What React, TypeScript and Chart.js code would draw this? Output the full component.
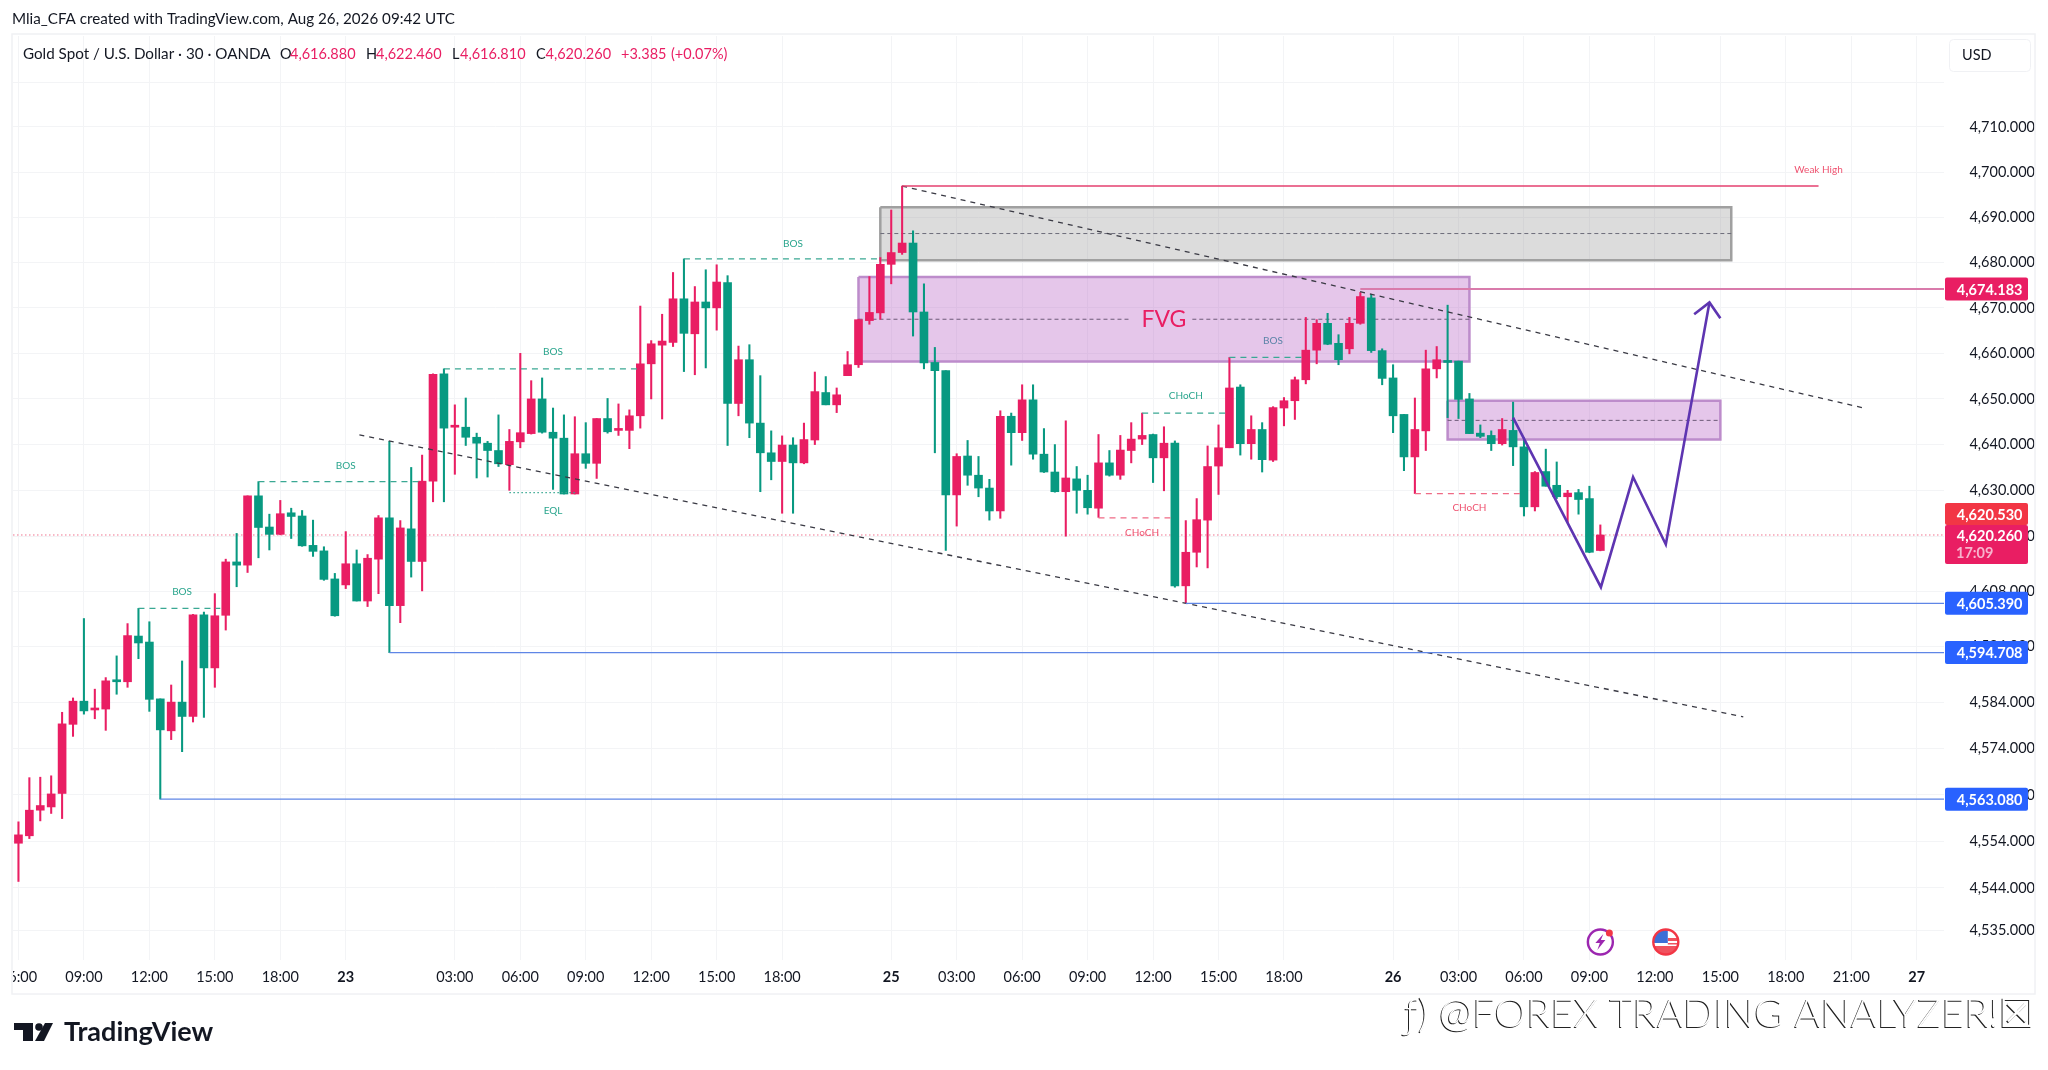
import Chart from "chart.js/auto";
import { useEffect, useRef } from "react";

// 30 minute bars, prices
const opens = [
  4553.6, 4555.2, 4560.7, 4561.4, 4564.3, 4579.2, 4584.2, 4582.3, 4582.5, 4588.5,
  4588.4, 4598.3, 4597.0, 4584.7, 4577.8, 4584.0, 4580.9, 4602.9, 4591.4, 4602.8,
  4614.4, 4613.7, 4628.8, 4622.0, 4620.4, 4625.1, 4624.4, 4618.0, 4616.8, 4610.7,
  4609.4, 4614.0, 4605.9, 4615.0, 4624.0, 4604.9, 4621.6, 4614.5, 4632.0, 4655.5,
  4643.8, 4643.8, 4641.6, 4640.3, 4638.7, 4635.6, 4640.6, 4642.4, 4650.0, 4642.7,
  4641.4, 4629.2, 4638.0, 4635.9, 4645.7, 4643.1, 4643.1, 4646.3, 4657.7, 4661.8,
  4662.4, 4672.0, 4664.3, 4671.3, 4670.0, 4675.6, 4649.0, 4658.6, 4644.7, 4638.2,
  4636.3, 4639.9, 4636.0, 4641.0, 4651.4, 4648.7, 4655.1, 4657.5, 4667.2, 4668.9,
  4679.6, 4682.2, 4684.3, 4669.1, 4658.0, 4656.2, 4629.0, 4637.5, 4633.3, 4630.5,
  4625.5, 4646.2, 4642.6, 4649.8, 4637.9, 4634.0, 4629.7, 4632.5, 4630.0, 4626.1,
  4636.0, 4633.3, 4638.7, 4641.2, 4642.2, 4637.1, 4640.3, 4609.2, 4616.5, 4623.5,
  4635.3, 4639.3, 4652.6, 4640.2, 4643.3, 4636.6, 4648.0, 4649.6, 4654.2, 4660.7,
  4666.6, 4662.2, 4661.0, 4666.6, 4672.2, 4660.6, 4654.6, 4646.6, 4637.3, 4643.0,
  4656.6, 4658.4, 4658.3, 4650.0, 4642.5, 4642.0, 4640.2, 4643.1, 4639.5, 4626.4,
  4634.1, 4631.1, 4628.6, 4629.5, 4628.2, 4616.88,
];
const highs = [
  4558.2, 4567.7, 4567.8, 4568.1, 4581.8, 4584.9, 4602.1, 4586.8, 4589.3, 4594.0,
  4601.0, 4604.3, 4601.4, 4584.7, 4587.7, 4592.9, 4603.0, 4603.5, 4607.5, 4615.0,
  4620.6, 4628.8, 4631.9, 4624.8, 4627.8, 4626.1, 4625.6, 4623.5, 4617.7, 4611.9,
  4621.0, 4617.0, 4616.0, 4624.5, 4640.7, 4623.4, 4635.0, 4637.7, 4655.5, 4656.6,
  4648.7, 4650.2, 4642.5, 4640.7, 4646.5, 4643.3, 4660.0, 4654.0, 4654.6, 4648.0,
  4646.5, 4646.1, 4644.8, 4645.7, 4650.1, 4648.9, 4647.6, 4670.4, 4662.8, 4668.6,
  4677.8, 4680.8, 4674.7, 4678.4, 4679.5, 4677.1, 4661.6, 4661.9, 4655.1, 4643.0,
  4641.9, 4641.5, 4644.7, 4655.9, 4654.9, 4652.4, 4660.4, 4667.5, 4676.9, 4681.1,
  4691.6, 4696.9, 4687.0, 4675.3, 4661.3, 4656.2, 4638.0, 4640.9, 4637.4, 4632.4,
  4647.4, 4646.9, 4653.1, 4653.1, 4643.5, 4640.0, 4645.2, 4635.2, 4633.3, 4642.2,
  4638.7, 4642.0, 4644.8, 4646.9, 4642.3, 4643.9, 4640.8, 4623.4, 4628.2, 4639.7,
  4644.3, 4659.1, 4653.1, 4646.3, 4644.8, 4648.3, 4650.3, 4654.8, 4667.9, 4667.4,
  4668.8, 4664.1, 4667.9, 4673.4, 4673.0, 4661.0, 4657.5, 4646.6, 4650.2, 4660.7,
  4661.5, 4670.6, 4658.3, 4651.2, 4644.3, 4643.0, 4645.7, 4649.3, 4641.5, 4634.1,
  4639.0, 4636.2, 4630.0, 4630.2, 4630.9, 4622.46,
];
const lows = [
  4545.4, 4554.6, 4558.4, 4560.0, 4558.9, 4576.6, 4581.4, 4580.4, 4577.9, 4585.7,
  4587.2, 4593.4, 4582.0, 4563.08, 4575.9, 4573.3, 4579.7, 4580.7, 4587.2, 4599.6,
  4609.0, 4612.1, 4615.3, 4617.0, 4620.3, 4619.5, 4617.8, 4615.6, 4610.4, 4602.6,
  4608.6, 4605.9, 4604.7, 4607.5, 4594.708, 4601.2, 4611.1, 4608.1, 4627.5, 4627.5,
  4633.5, 4639.8, 4632.7, 4632.9, 4635.2, 4630.0, 4639.3, 4642.3, 4642.5, 4630.2,
  4629.2, 4629.2, 4634.8, 4632.6, 4642.5, 4642.0, 4639.1, 4643.6, 4650.0, 4645.6,
  4661.5, 4656.0, 4655.3, 4656.8, 4665.1, 4639.8, 4646.3, 4641.5, 4629.7, 4632.3,
  4625.0, 4625.0, 4635.8, 4640.0, 4648.7, 4647.0, 4655.1, 4656.9, 4666.4, 4667.5,
  4675.3, 4681.8, 4663.8, 4656.6, 4638.2, 4616.9, 4622.2, 4631.1, 4628.6, 4623.5,
  4623.9, 4635.5, 4640.9, 4636.8, 4633.9, 4629.6, 4620.0, 4625.0, 4624.8, 4624.1,
  4633.1, 4632.4, 4636.0, 4640.0, 4631.7, 4629.9, 4608.9, 4605.39, 4613.3, 4613.1,
  4629.1, 4639.3, 4637.7, 4636.8, 4634.0, 4636.3, 4644.1, 4645.5, 4653.3, 4657.7,
  4661.9, 4657.5, 4659.9, 4666.4, 4660.2, 4653.1, 4642.6, 4634.3, 4629.3, 4638.7,
  4654.6, 4645.9, 4645.7, 4642.4, 4641.5, 4638.7, 4639.9, 4635.4, 4624.4, 4625.5,
  4630.9, 4628.2, 4623.0, 4624.8, 4616.4, 4616.81,
];
const closes = [
  4555.4, 4560.7, 4561.7, 4564.2, 4579.3, 4584.2, 4582.1, 4582.6, 4588.6, 4588.4,
  4598.4, 4596.8, 4584.6, 4578.0, 4584.0, 4580.9, 4602.9, 4591.4, 4602.7, 4614.4,
  4613.7, 4628.8, 4621.9, 4620.4, 4624.9, 4624.3, 4617.9, 4616.7, 4610.6, 4602.7,
  4614.0, 4605.9, 4615.2, 4624.0, 4604.9, 4621.8, 4614.5, 4632.0, 4655.4, 4643.6,
  4644.0, 4641.6, 4640.3, 4638.7, 4635.8, 4640.7, 4642.6, 4650.0, 4642.7, 4641.4,
  4629.2, 4638.0, 4635.9, 4645.7, 4642.8, 4643.2, 4646.3, 4657.7, 4662.1, 4662.7,
  4672.0, 4664.4, 4671.3, 4670.0, 4675.7, 4649.0, 4658.6, 4644.7, 4638.2, 4636.3,
  4639.9, 4636.0, 4641.1, 4651.6, 4648.7, 4650.9, 4657.5, 4667.4, 4669.0, 4679.6,
  4682.2, 4684.3, 4669.1, 4657.9, 4656.2, 4629.0, 4637.4, 4633.3, 4630.5, 4625.5,
  4646.2, 4642.6, 4649.8, 4637.9, 4634.0, 4629.7, 4632.7, 4630.0, 4626.2, 4636.0,
  4633.3, 4638.8, 4641.2, 4642.0, 4637.1, 4640.3, 4609.2, 4616.5, 4623.6, 4635.2,
  4639.3, 4652.4, 4640.2, 4643.3, 4636.7, 4648.1, 4649.6, 4654.2, 4660.7, 4666.6,
  4662.0, 4658.6, 4666.6, 4672.5, 4660.6, 4654.5, 4646.3, 4637.3, 4643.3, 4656.6,
  4658.6, 4658.0, 4649.9, 4642.4, 4641.8, 4640.2, 4643.3, 4639.5, 4626.4, 4633.9,
  4630.9, 4628.6, 4629.4, 4628.0, 4616.5, 4620.26,
];

// time axis
const slotCount = 177;
const tickSlots = [0, 6, 12, 18, 24, 30, 40, 46, 52, 58, 64, 70, 80, 86, 92, 98, 104, 110, 116, 126, 132, 138, 144, 150, 156, 162, 168, 174];
const tickLabels = ["06:00", "09:00", "12:00", "15:00", "18:00", "23", "03:00", "06:00", "09:00", "12:00", "15:00", "18:00", "25", "03:00", "06:00", "09:00", "12:00", "15:00", "18:00", "26", "03:00", "06:00", "09:00", "12:00", "15:00", "18:00", "21:00", "27"];
const dayLabels = ["23", "25", "26", "27"];
const priceTicks = [4720, 4710, 4700, 4690, 4680, 4670, 4660, 4650, 4640, 4630, 4620, 4608, 4596, 4584, 4574, 4564, 4554, 4544, 4535];

// drawings, in bar slots and prices
const zoneStart = [79, 77, 131];
const zoneEnd = [157, 133, 156];
const zoneHigh = [4692.2, 4676.8, 4649.6];
const zoneLow = [4680.5, 4658.2, 4641.1];
const zoneMid = [4686.4, 4667.5, 4645.3];

const bosStart = [11, 22, 39, 61, 111, 103];
const bosEnd = [18.5, 37, 57, 79, 118, 111];
const bosPrice = [4604.3, 4631.9, 4656.6, 4680.8, 4659.1, 4646.9];
const chochStart = [99, 128];
const chochEnd = [106, 138];
const chochPrice = [4624.0, 4629.3];

const levelStart = [13, 34, 107, 123, 81];
const levelEnd = [176.5, 176.5, 176.5, 176.5, 165];
const levelPrice = [4563.08, 4594.708, 4605.39, 4674.183, 4696.9];
const levelColor = ["#5f86e6", "#5f86e6", "#5f86e6", "#d97bab", "#e4406f"];

const trendSlots = [[81, 169], [31.25, 158.1]];
const trendPrices = [[4696.9, 4648.1], [4642.1, 4580.8]];
const pathSlots = [137, 145.05, 148, 151, 155];
const pathPrices = [4645.9, 4608.9, 4632.9, 4618.2, 4671.2];
const arrowSlots = [153.6, 155, 156];
const arrowPrices = [4668.6, 4671.2, 4667.7];

const noteTexts = ["BOS", "BOS", "BOS", "BOS", "BOS", "CHoCH", "CHoCH", "CHoCH", "EQL", "Weak High"];
const noteSlots = [15, 30, 49, 71, 115, 107, 103, 133, 49, 165];
const notePrices = [4607.9, 4635.4, 4660.3, 4684.2, 4662.8, 4650.6, 4620.7, 4626.3, 4625.6, 4700.5];
const noteColors = ["#2aa58d", "#2aa58d", "#2aa58d", "#2aa58d", "#5b84a8", "#2aa58d", "#ef5370", "#ef5370", "#2aa58d", "#ef5370"];

const PINK = "#e91e63";
const GREEN = "#089981";
const BLUE = "#2962ff";
const FONT = "Lato, 'Noto Sans', sans-serif";

const rect = (i: number) => {
  const pts = [
    { x: zoneStart[i], y: zoneHigh[i] },
    { x: zoneEnd[i], y: zoneHigh[i] },
    { x: zoneEnd[i], y: zoneLow[i] },
    { x: zoneStart[i], y: zoneLow[i] },
    { x: zoneStart[i], y: zoneHigh[i] },
  ];
  return pts;
};

function line(data: { x: number; y: number }[], color: string, width: number, dash: number[], order: number) {
  return {
    type: "line" as const,
    data,
    xAxisID: "xd",
    borderColor: color,
    borderWidth: width,
    borderDash: dash,
    pointRadius: 0,
    tension: 0,
    fill: false,
    order,
  };
}

function seg(a: number, b: number, price: number) {
  return [{ x: a, y: price }, { x: b, y: price }];
}

const zoneColors = ["rgba(150,150,150,0.33)", "rgba(186,104,200,0.38)", "rgba(186,104,200,0.38)"];
const zoneBorders = ["#a0a0a0", "#bd8ccb", "#bd8ccb"];

const overlay = {
  id: "overlay",
  afterDatasetsDraw(chart: any) {
    const { ctx, scales } = chart;
    const x = scales.xd;
    const y = scales.y;
    ctx.save();
    ctx.textAlign = "center";
    ctx.textBaseline = "middle";
    noteTexts.forEach((t, i) => {
      ctx.font = `10px ${FONT}`;
      ctx.fillStyle = noteColors[i];
      ctx.fillText(t, x.getPixelForValue(noteSlots[i]), y.getPixelForValue(notePrices[i]));
    });
    ctx.font = `23px ${FONT}`;
    ctx.fillStyle = PINK;
    ctx.fillText("FVG", x.getPixelForValue(105), y.getPixelForValue(zoneMid[1]));
    ctx.restore();
  },
  afterDraw(chart: any) {
    const { ctx, scales } = chart;
    const y = scales.y;
    const xd = scales.xd;
    ctx.save();
    // hide the part of the first time label that falls off the pane
    ctx.fillStyle = "#fff";
    ctx.fillRect(0, 960, 13, 34);

    // frame
    ctx.strokeStyle = "#f0f1f4";
    ctx.lineWidth = 1.5;
    ctx.strokeRect(12, 34, 2023, 960);

    // header lines
    ctx.textBaseline = "middle";
    ctx.textAlign = "left";
    ctx.fillStyle = "#131722";
    ctx.font = `15.2px ${FONT}`;
    ctx.fillText("Mlia_CFA created with TradingView.com, Aug 26, 2026 09:42 UTC", 12, 19);
    ctx.fillText("Gold Spot / U.S. Dollar · 30 · OANDA", 23, 54);

    ctx.font = `14.5px ${FONT}`;
    const legend: [string, string, number][] = [
      ["O", "#131722", 280],
      ["4,616.880", PINK, 290],
      ["H", "#131722", 366],
      ["4,622.460", PINK, 376],
      ["L", "#131722", 452],
      ["4,616.810", PINK, 460],
      ["C", "#131722", 536],
      ["4,620.260", PINK, 545.5],
      ["+3.385", PINK, 621],
      ["(+0.07%)", PINK, 671],
    ];
    legend.forEach(([t, c, px]) => {
      ctx.fillStyle = c;
      ctx.fillText(t, px, 54);
    });

    // currency button
    ctx.strokeStyle = "#f0f1f4";
    ctx.lineWidth = 1;
    ctx.beginPath();
    ctx.roundRect(1949.5, 39.5, 81, 32, 4);
    ctx.stroke();
    ctx.fillStyle = "#131722";
    ctx.fillText("USD", 1962, 55);

    // price tags on the axis
    const TAG_L = 1945;
    const TAG_W = 83;
    const tag = (top: number, h: number, color: string) => {
      ctx.fillStyle = color;
      ctx.beginPath();
      ctx.roundRect(TAG_L, top, TAG_W, h, 2);
      ctx.fill();
    };
    ctx.textAlign = "right";
    ctx.font = `700 14.5px ${FONT}`;
    [
      [4674.183, PINK],
      [4605.39, BLUE],
      [4594.708, BLUE],
      [4563.08, BLUE],
    ].forEach(([p, c]: any) => {
      const py = y.getPixelForValue(p);
      tag(py - 11.5, 23, c);
      ctx.fillStyle = "#fff";
      ctx.fillText(p.toLocaleString("en-US", { minimumFractionDigits: 3 }), 2022.5, py + 1);
    });
    const py = y.getPixelForValue(4620.26);
    tag(py - 32, 22, "#f23645");
    tag(py - 10, 39, PINK);
    ctx.fillStyle = "#fff";
    ctx.fillText("4,620.530", 2022.5, py - 20);
    ctx.fillText("4,620.260", 2022.5, py + 1);
    ctx.textAlign = "left";
    ctx.fillStyle = "#f7b3cc";
    ctx.fillText("17:09", 1956, py + 18);

    // event icons
    const ix = xd.getPixelForValue(145);
    const iy = 942;
    ctx.lineWidth = 2.4;
    ctx.strokeStyle = "#9c27b0";
    ctx.beginPath();
    ctx.arc(ix, iy, 12.5, 0, Math.PI * 2);
    ctx.stroke();
    ctx.fillStyle = "#9c27b0";
    ctx.beginPath();
    ctx.moveTo(ix + 3, iy - 8);
    ctx.lineTo(ix - 5, iy + 1);
    ctx.lineTo(ix - 0.5, iy + 1);
    ctx.lineTo(ix - 3, iy + 8);
    ctx.lineTo(ix + 5, iy - 2);
    ctx.lineTo(ix + 0.5, iy - 2);
    ctx.closePath();
    ctx.fill();
    ctx.fillStyle = "#f23645";
    ctx.beginPath();
    ctx.arc(ix + 9, iy - 9, 3.5, 0, Math.PI * 2);
    ctx.fill();

    const fx = xd.getPixelForValue(151);
    ctx.save();
    ctx.beginPath();
    ctx.arc(fx, iy, 12, 0, Math.PI * 2);
    ctx.clip();
    ctx.fillStyle = "#fff";
    ctx.fillRect(fx - 13, iy - 13, 26, 26);
    ctx.fillStyle = "#f0525e";
    ctx.fillRect(fx - 13, iy + 4, 26, 9);
    ctx.fillRect(fx + 2, iy - 4, 11, 3);
    ctx.fillRect(fx + 2, iy + 1, 11, 1.5);
    ctx.fillStyle = "#3d6fd6";
    ctx.fillRect(fx - 13, iy - 13, 15, 14);
    ctx.restore();
    ctx.strokeStyle = "#f23645";
    ctx.beginPath();
    ctx.arc(fx, iy, 12.5, 0, Math.PI * 2);
    ctx.stroke();

    // logo
    ctx.fillStyle = "#131722";
    ctx.fillRect(14, 1023, 19, 7);
    ctx.fillRect(23, 1023, 10, 18);
    ctx.beginPath();
    ctx.arc(39, 1027, 3.8, 0, Math.PI * 2);
    ctx.fill();
    ctx.beginPath();
    ctx.moveTo(45, 1023);
    ctx.lineTo(53, 1023);
    ctx.lineTo(44, 1041);
    ctx.lineTo(35, 1041);
    ctx.closePath();
    ctx.fill();
    ctx.textAlign = "left";
    ctx.font = `700 27px ${FONT}`;
    ctx.fillText("TradingView", 64, 1032);

    // watermark over the footer
    ctx.font = `300 40px ${FONT}`;
    const mark = "ƒ) @FOREX TRADING ANALYZER!☒";
    ctx.fillStyle = "#222";
    ctx.fillText(mark, 1404, 1015);
    ctx.fillStyle = "#fff";
    ctx.fillText(mark, 1405, 1014);
    ctx.restore();
  },
};

export default function App() {
  const ref = useRef<HTMLCanvasElement | null>(null);

  useEffect(() => {
    if (!ref.current) return;
    const labels = Array.from({ length: slotCount }, (_, i) => {
      const at = tickSlots.indexOf(i);
      return at >= 0 ? tickLabels[at] : "";
    });
    const colors = closes.map((c, i) => (c >= opens[i] ? PINK : GREEN));

    const datasets: any[] = [];
    zoneStart.forEach((_, i) => {
      datasets.push({
        ...line(rect(i), zoneBorders[i], 2.5, [], 6),
        fill: "shape",
        backgroundColor: zoneColors[i],
      });
    });
    datasets.push(line(seg(-0.5, 176.5, 4620.26), "#f0748f", 1, [1.5, 2.5], 5));
    datasets.push(line(seg(zoneStart[0], zoneEnd[0], zoneMid[0]), "#6d6d7a", 1, [4, 3], 5));
    datasets.push(line(seg(zoneStart[1], 102, zoneMid[1]), "#6d5a78", 1, [4, 3], 5));
    datasets.push(line(seg(107.6, zoneEnd[1], zoneMid[1]), "#6d5a78", 1, [4, 3], 5));
    datasets.push(line(seg(zoneStart[2], zoneEnd[2], zoneMid[2]), "#6d5a78", 1, [4, 3], 5));

    datasets.push({
      type: "bar",
      data: highs.map((h, i) => [lows[i], h]),
      backgroundColor: colors,
      barThickness: 1.4,
      grouped: false,
      order: 3,
    });
    datasets.push({
      type: "bar",
      data: opens.map((o, i) => [o, closes[i]]),
      backgroundColor: colors,
      barThickness: 8,
      minBarLength: 2,
      grouped: false,
      order: 2,
    });

    bosStart.forEach((s, i) => datasets.push(line(seg(s, bosEnd[i], bosPrice[i]), "#3aa893", 1.2, [6, 5], 1)));
    chochStart.forEach((s, i) => datasets.push(line(seg(s, chochEnd[i], chochPrice[i]), "#ef6a85", 1.2, [6, 5], 1)));
    datasets.push(line(seg(45, 51, 4629.5), "#3aa893", 1.2, [1.5, 2.5], 1));
    levelStart.forEach((s, i) => datasets.push(line(seg(s, levelEnd[i], levelPrice[i]), levelColor[i], i === 3 ? 2 : 1.4, [], 1)));
    trendSlots.forEach((t, i) =>
      datasets.push(line(t.map((x, k) => ({ x, y: trendPrices[i][k] })), "#3a3a44", 1.3, [5, 5], 1))
    );
    datasets.push(line(pathSlots.map((x, i) => ({ x, y: pathPrices[i] })), "#5e35b1", 2.6, [], 0));
    datasets.push(line(arrowSlots.map((x, i) => ({ x, y: arrowPrices[i] })), "#5e35b1", 2.6, [], 0));

    const chart = new Chart(ref.current, {
      type: "bar",
      data: { labels, datasets },
      options: {
        responsive: false,
        animation: false,
        devicePixelRatio: 1,
        layout: { padding: { left: 13, right: 13, top: 36, bottom: 76 } },
        plugins: { legend: { display: false }, tooltip: { enabled: false } },
        scales: {
          x: {
            type: "category",
            offset: true,
            afterFit: (s: any) => {
              s.height = 34;
              s.paddingLeft = 0;
              s.paddingRight = 0;
            },
            afterBuildTicks: (s: any) => {
              s.ticks = tickSlots.map((value) => ({ value }));
            },
            border: { display: false },
            grid: { offset: false, color: "#f3f4f6", drawTicks: false },
            ticks: {
              autoSkip: false,
              maxRotation: 0,
              padding: 9,
              color: "#131722",
              font: (c: any) => ({
                family: FONT,
                size: 14.5,
                weight: dayLabels.includes(c.tick?.label) ? "bold" : "normal",
              }),
            },
          },
          xd: { type: "linear", display: false, offset: false, min: -0.5, max: 176.5 },
          y: {
            type: "logarithmic",
            position: "right",
            min: 4528.6,
            max: 4730.25,
            afterFit: (s: any) => {
              s.width = 91;
              s.paddingTop = 0;
              s.paddingBottom = 0;
            },
            afterBuildTicks: (s: any) => {
              s.ticks = priceTicks.map((value) => ({ value }));
            },
            border: { display: false },
            grid: { color: "#f3f4f6", drawTicks: false },
            ticks: {
              autoSkip: false,
              crossAlign: "far",
              padding: 2,
              color: "#131722",
              font: { family: FONT, size: 14.5 },
              callback: (v: any) =>
                v === 4720 ? "" : Number(v).toLocaleString("en-US", { minimumFractionDigits: 3 }),
            },
          },
        },
      } as any,
      plugins: [overlay],
    });
    return () => chart.destroy();
  }, [ref]);

  return (
    <canvas
      ref={ref}
      width={2048}
      height={1070}
      style={{ position: "absolute", left: 0, top: 0, display: "block" }}
    ></canvas>
  );
}
